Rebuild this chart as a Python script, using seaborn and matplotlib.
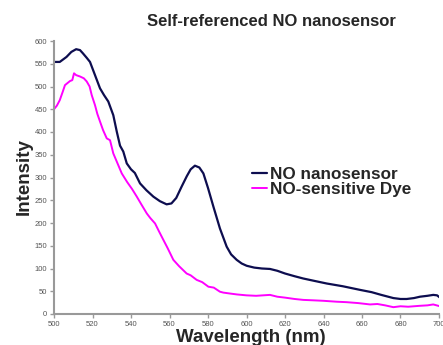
import matplotlib
matplotlib.use("Agg")
import matplotlib.pyplot as plt
import seaborn as sns
import pandas as pd

# ---- data ----
nano_wl = [500, 503, 506.5, 509, 511.5, 513.5, 515, 517, 518.7, 521.3, 523.9, 526, 528.2, 530.8,
           532.6, 534.3, 536, 537.8, 540, 542, 544.7, 548, 551.6, 555, 558.5, 561, 563.5, 566.3,
           569, 571, 573.2, 575.5, 577.6, 580, 582.8, 586.2, 589.7, 592, 594.9, 597.5, 600.1,
           604, 608, 612.2, 616, 620, 625, 629.5, 635, 641.7, 650, 659, 665, 670, 676.3, 680,
           683.2, 687, 690.1, 694, 697, 699, 700.5]
nano_int = [554, 554, 565, 576, 582, 580, 573, 563, 554, 525, 496, 481, 467, 437,
            401, 370, 357, 331, 318, 310, 287, 272, 258, 248, 241, 243, 255, 280,
            303, 318, 326, 322, 309, 277, 236, 188, 148, 131, 119, 111, 106,
            102, 100, 99, 95, 89, 83, 78, 73, 67, 61, 53, 48, 42, 35, 33,
            33, 35, 38, 40, 42, 41, 36]

dye_wl = [500, 501.5, 503, 504.5, 505.7, 508.3, 509.5, 510.4, 511.5, 513.5, 515.5, 517, 518.5,
          519.6, 521.3, 522.5, 523.9, 525.5, 527.4, 529.1, 530.8, 532.5, 535.2, 538, 540.5,
          543, 545.5, 548.2, 550, 552.5, 554.5, 556.8, 559, 562, 565, 568.9, 571, 574.1,
          577, 580.2, 583, 586.2, 588, 591.4, 595, 600, 605, 612.2, 616, 620, 625, 629.5,
          635, 640, 646.9, 652, 658, 664.2, 668, 672, 676.3, 680, 684, 690, 694, 697, 700.5]
dye_int = [450, 458, 470, 488, 503, 512, 514, 529, 525, 522, 518, 511, 500,
           481, 459, 440, 423, 404, 386, 382, 353, 336, 309, 290, 275,
           258, 240, 221, 211, 199, 182, 163, 145, 119, 105, 89, 85, 75,
           70, 60, 58, 49, 47, 45, 43, 41, 40, 42, 38, 36, 33, 31,
           30, 29, 27, 26, 24, 21, 22, 19, 15, 17, 16, 18, 19, 21, 17]

x_ticks = list(range(500, 701, 20))
y_ticks = list(range(0, 601, 50))

title = "Self-referenced NO nanosensor"
series_names = ["NO nanosensor", "NO-sensitive Dye"]
colors = ["#0d0d4f", "#ff00ff"]

sns.set_style("white")
plt.rcParams["font.family"] = ["Liberation Sans", "DejaVu Sans"]

fig = plt.figure(figsize=(4.43, 3.45), dpi=100)
ax = fig.add_axes([54 / 443, 1 - 314 / 345, 385 / 443, 273 / 345])

df_nano = pd.DataFrame({"Wavelength": nano_wl, "Intensity": nano_int})
df_dye = pd.DataFrame({"Wavelength": dye_wl, "Intensity": dye_int})
sns.lineplot(data=df_nano, x="Wavelength", y="Intensity", ax=ax, color=colors[0],
             linewidth=1.6, label=series_names[0], sort=False)
sns.lineplot(data=df_dye, x="Wavelength", y="Intensity", ax=ax, color=colors[1],
             linewidth=1.4, label=series_names[1], sort=False)

ax.set_xlim(500, 700)
ax.set_ylim(0, 600)
ax.set_xticks(x_ticks)
ax.set_yticks(y_ticks)
ax.tick_params(axis="both", labelsize=5.5, labelcolor="#555555", color="#999999",
               length=3, width=1, direction="out", pad=2, left=True, bottom=True)
for s in ["top", "right"]:
    ax.spines[s].set_visible(False)
for s in ["left", "bottom"]:
    ax.spines[s].set_color("#999999")
    ax.spines[s].set_linewidth(1.5)

ax.set_xlabel("Wavelength (nm)", fontsize=13.5, fontweight="bold")
ax.set_ylabel("Intensity", fontsize=13.5, fontweight="bold")
ax.xaxis.set_label_coords(0.51, -0.055)
ax.yaxis.set_label_coords(-0.055, 0.505)

ax.text(0.566, 1.073, title, transform=ax.transAxes, ha="center", va="center",
        fontsize=12, fontweight="bold")

leg = ax.legend(loc="center left", bbox_to_anchor=(0.513, 0.485), frameon=False,
                prop={"size": 12.3, "weight": "bold"}, handlelength=0.9,
                handletextpad=0.2, labelspacing=0.0, borderpad=0, borderaxespad=0)

fig.savefig("out.png", dpi=100)
